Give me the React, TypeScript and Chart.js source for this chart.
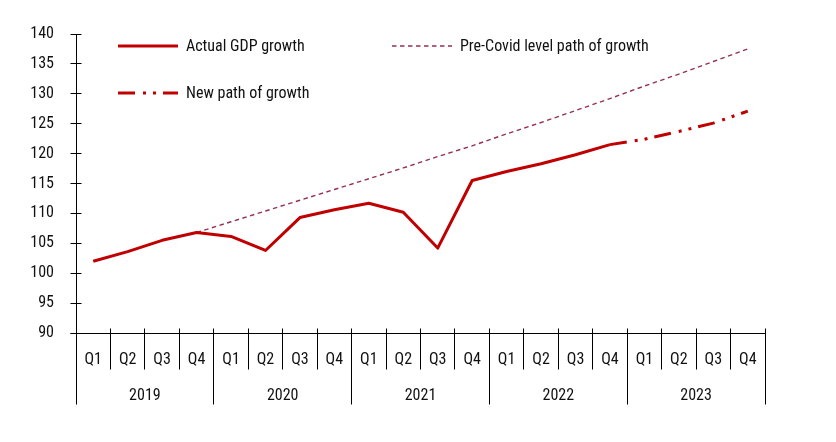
import React, { useEffect, useRef } from 'react';
import { Chart, registerables } from 'chart.js';

Chart.register(...registerables);

// ---------- data ----------
const quarterLabels: string[] = [
  'Q1', 'Q2', 'Q3', 'Q4',
  'Q1', 'Q2', 'Q3', 'Q4',
  'Q1', 'Q2', 'Q3', 'Q4',
  'Q1', 'Q2', 'Q3', 'Q4',
  'Q1', 'Q2', 'Q3', 'Q4',
];
const yearLabels: string[] = ['2019', '2020', '2021', '2022', '2023'];

const actualGdp: (number | null)[] = [
  102.0, 103.6, 105.5, 106.8,
  106.15, 103.8, 109.3, 110.6,
  111.7, 110.2, 104.2, 115.5,
  117.0, 118.3, 119.8, 121.5,
  null, null, null, null,
];
const preCovidPath: (number | null)[] = [
  null, null, null, 106.8,
  108.6, 110.4, 112.2, 114.0,
  115.8, 117.6, 119.5, 121.3,
  123.3, 125.2, 127.2, 129.2,
  131.3, 133.3, 135.4, 137.5,
];
const newPath: (number | null)[] = [
  null, null, null, null,
  null, null, null, null,
  null, null, null, null,
  null, null, null, 121.5,
  122.4, 123.7, 125.1, 127.1,
];

const seriesNames = ['Actual GDP growth', 'Pre-Covid level path of growth', 'New path of growth'];
const yMin = 90;
const yMax = 140;
const yStep = 5;

// ---------- styles ----------
const FONT = "Roboto, 'Liberation Sans', sans-serif";
const STRETCH = 'condensed';
const RED = '#C00000';
const MAUVE = '#953050';
const TEXT = '#111111';
const NEW_DASH = [17, 8, 3, 7, 3, 7];
const PRE_DASH = [4.5, 3.5];

const tickFont = { family: FONT, size: 16, weight: STRETCH as any };

const decorPlugin = {
  id: 'decor',
  afterDraw(chart: any) {
    const { ctx, chartArea, scales } = chart;
    const xs = scales.x;
    const ys = scales.y;
    const crisp = (v: number) => Math.floor(v) + 0.5;
    const L = crisp(chartArea.left);
    const axisY = crisp(chartArea.bottom);
    const topY = crisp(ys.getPixelForValue(yMax));

    ctx.save();
    ctx.strokeStyle = '#000';
    ctx.lineWidth = 1;
    ctx.setLineDash([]);

    // y axis line
    ctx.beginPath();
    ctx.moveTo(L, topY);
    ctx.lineTo(L, axisY);
    ctx.stroke();

    // y ticks crossing the axis
    ys.ticks.forEach((t: any) => {
      const y = crisp(ys.getPixelForValue(t.value));
      ctx.beginPath();
      ctx.moveTo(L - 6, y);
      ctx.lineTo(L + 5, y);
      ctx.stroke();
    });

    // category boundaries
    const n = quarterLabels.length;
    const c0 = xs.getPixelForValue(0);
    const c1 = xs.getPixelForValue(1);
    const sp = c1 - c0;
    const R = crisp(c0 - sp / 2 + n * sp);

    // x axis line
    ctx.beginPath();
    ctx.moveTo(L - 6, axisY);
    ctx.lineTo(R, axisY);
    ctx.stroke();

    for (let i = 0; i <= n; i++) {
      const x = crisp(c0 - sp / 2 + i * sp);
      const isYear = i % 4 === 0;
      ctx.beginPath();
      ctx.moveTo(x, i === 0 ? axisY : axisY - 5);
      ctx.lineTo(x, isYear ? axisY + 71 : axisY + 36);
      ctx.stroke();
    }

    // legend
    const top = chartArea.top;
    const left = chartArea.left;
    const items = [
      { label: seriesNames[0], color: RED, width: 3, dash: [] as number[], x: left + 42, y: top + 12 },
      { label: seriesNames[1], color: MAUVE, width: 1.4, dash: PRE_DASH, x: left + 316, y: top + 12 },
      { label: seriesNames[2], color: RED, width: 3, dash: NEW_DASH, x: left + 42, y: top + 59 },
    ];
    ctx.font = `${STRETCH} 16px ${FONT}`;
    ctx.textBaseline = 'middle';
    ctx.textAlign = 'left';
    items.forEach((it) => {
      ctx.strokeStyle = it.color;
      ctx.lineWidth = it.width;
      ctx.setLineDash(it.dash);
      ctx.beginPath();
      ctx.moveTo(it.x, it.y);
      ctx.lineTo(it.x + 60, it.y);
      ctx.stroke();
      ctx.setLineDash([]);
      ctx.fillStyle = TEXT;
      ctx.fillText(it.label, it.x + 68, it.y + 1);
    });
    ctx.restore();
  },
};

export default function App() {
  const ref = useRef<HTMLCanvasElement | null>(null);

  useEffect(() => {
    if (!ref.current) return;
    const chart = new Chart(ref.current, {
      type: 'line',
      data: {
        labels: quarterLabels,
        datasets: [
          {
            label: seriesNames[0],
            data: actualGdp,
            borderColor: RED,
            borderWidth: 3,
            pointRadius: 0,
            tension: 0,
            spanGaps: false,
            borderCapStyle: 'butt',
            borderJoinStyle: 'round',
          },
          {
            label: seriesNames[1],
            data: preCovidPath,
            borderColor: MAUVE,
            borderWidth: 1.4,
            borderDash: PRE_DASH,
            pointRadius: 0,
            tension: 0,
          },
          {
            label: seriesNames[2],
            data: newPath,
            borderColor: RED,
            borderWidth: 3,
            borderDash: NEW_DASH,
            pointRadius: 0,
            tension: 0,
            borderCapStyle: 'butt',
          },
        ],
      },
      options: {
        responsive: true,
        maintainAspectRatio: false,
        animation: false,
        layout: { padding: { left: 0, right: 71, top: 34, bottom: 29 } },
        plugins: {
          legend: { display: false },
          tooltip: { enabled: false },
        },
        scales: {
          x: {
            type: 'category',
            position: 'bottom',
            weight: 0,
            offset: true,
            grid: { display: false },
            border: { display: false },
            ticks: {
              autoSkip: false,
              maxRotation: 0,
              padding: 9,
              color: TEXT,
              font: tickFont,
            },
            afterFit: (s: any) => { s.height = 40; },
          },
          x2: {
            type: 'category',
            position: 'bottom',
            weight: 1,
            labels: yearLabels,
            offset: true,
            grid: { display: false },
            border: { display: false },
            ticks: {
              autoSkip: false,
              maxRotation: 0,
              padding: 5,
              color: TEXT,
              font: tickFont,
            },
            afterFit: (s: any) => { s.height = 40; },
          },
          y: {
            min: yMin,
            max: yMax,
            grid: { display: false },
            border: { display: false },
            ticks: {
              stepSize: yStep,
              padding: 14,
              color: TEXT,
              font: tickFont,
            },
            afterFit: (s: any) => { s.width = 76; },
          },
        },
      },
      plugins: [decorPlugin],
    } as any);
    return () => chart.destroy();
  }, []);

  return (
    <div style={{ position: 'absolute', left: 0, top: 0, width: 836, height: 442 }}>
      <canvas ref={ref} />
    </div>
  );
}
